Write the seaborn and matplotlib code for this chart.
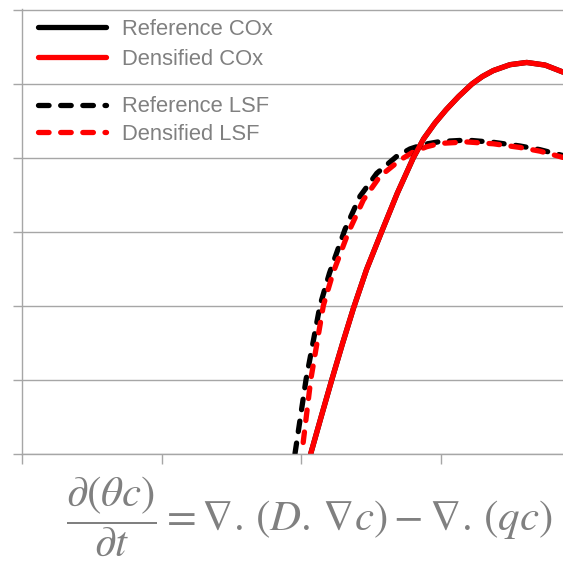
import numpy as np
import pandas as pd
import matplotlib
matplotlib.use("Agg")
import matplotlib.pyplot as plt
from matplotlib.lines import Line2D
import seaborn as sns

# values (x in tick units, y in gridline units)
cox_x = [2.070, 2.145, 2.221, 2.298, 2.375, 2.470, 2.578, 2.690, 2.805, 2.880,
         2.960, 3.040, 3.130, 3.226, 3.300, 3.378, 3.498, 3.618, 3.749, 3.878]
cox_ref = [0.0, 0.50, 1.00, 1.49, 1.96, 2.49, 3.00, 3.52, 4.00, 4.26,
           4.47, 4.65, 4.83, 5.00, 5.10, 5.18, 5.26, 5.29, 5.255, 5.16]
cox_dens = [0.0, 0.50, 1.00, 1.49, 1.96, 2.49, 3.00, 3.52, 4.00, 4.26,
            4.47, 4.65, 4.83, 5.00, 5.10, 5.18, 5.26, 5.29, 5.255, 5.16]

lsf_ref_x = [1.957, 2.036, 2.136, 2.204, 2.315, 2.423, 2.543, 2.686, 2.781, 2.877,
             2.996, 3.188, 3.378, 3.570, 3.713, 3.878]
lsf_ref = [0.0, 1.00, 2.00, 2.44, 3.03, 3.48, 3.79, 4.02, 4.12, 4.18,
           4.22, 4.24, 4.21, 4.16, 4.11, 4.03]

lsf_dens_x = [2.006, 2.070, 2.160, 2.229, 2.339, 2.447, 2.566, 2.710, 2.805, 2.901,
              2.996, 3.188, 3.378, 3.570, 3.713, 3.878]
lsf_dens = [0.0, 1.00, 2.00, 2.44, 2.99, 3.43, 3.75, 3.97, 4.08, 4.15,
            4.195, 4.215, 4.19, 4.14, 4.09, 4.005]

labels = ["Reference COx", "Densified COx", "Reference LSF", "Densified LSF"]
x_ticks = [0, 1, 2, 3]
y_ticks = [0, 1, 2, 3, 4, 5, 6]

sns.set_style("white")
plt.rcParams["font.family"] = ["Liberation Sans", "DejaVu Sans"]
plt.rcParams["mathtext.fontset"] = "stix"

grey = "#a6a6a6"
txt_grey = "#808080"
red = "#ff0000"
lw = 3.8
dash = (2, 2.2)

fig = plt.figure(figsize=(5.63, 5.61), dpi=100)
ax = fig.add_axes([22 / 563, 107.5 / 561, 541 / 563, 445 / 561])

sns.lineplot(x=lsf_ref_x, y=lsf_ref, ax=ax, color="black", lw=lw, sort=False,
             linestyle=(0, dash), dash_capstyle="round")
sns.lineplot(x=lsf_dens_x, y=lsf_dens, ax=ax, color=red, lw=lw, sort=False,
             linestyle=(2.1, dash), dash_capstyle="round")
sns.lineplot(x=cox_x, y=cox_ref, ax=ax, color="black", lw=lw, sort=False)
sns.lineplot(x=cox_x, y=cox_dens, ax=ax, color=red, lw=lw, sort=False)

ax.set_xlim(0, 3.878)
ax.set_ylim(0, 6.02)
ax.set_xticks(x_ticks)
ax.set_yticks(y_ticks)
ax.set_xticklabels([])
ax.set_yticklabels([])
ax.grid(axis="y", color=grey, lw=1.0)
ax.grid(axis="x", visible=False)
for s in ["top", "right"]:
    ax.spines[s].set_visible(False)
for s in ["left", "bottom"]:
    ax.spines[s].set_color(grey)
    ax.spines[s].set_linewidth(1.0)
ax.tick_params(axis="y", direction="out", length=6.5, width=1.0, color=grey, left=True)
ax.tick_params(axis="x", direction="out", length=7, width=1.0, color=grey, bottom=True)

# legend proxies (same styles, dash phase starting at zero)
handles = [
    Line2D([], [], color="black", lw=lw, solid_capstyle="round"),
    Line2D([], [], color=red, lw=lw, solid_capstyle="round"),
    Line2D([], [], color="black", lw=lw, linestyle=(0, dash), dash_capstyle="round"),
    Line2D([], [], color=red, lw=lw, linestyle=(0, dash), dash_capstyle="round"),
]

leg_kw = dict(loc="upper left", frameon=False, fontsize=15.8, labelcolor=txt_grey,
              handlelength=3.1, handletextpad=0.71, borderpad=0, borderaxespad=0,
              bbox_transform=fig.transFigure)
leg1 = ax.legend(handles[:2], labels[:2], labelspacing=0.39,
                 bbox_to_anchor=(38 / 563, 1 - 19 / 561), **leg_kw)
ax.add_artist(leg1)
ax.legend(handles[2:], labels[2:], labelspacing=0.3,
          bbox_to_anchor=(38 / 563, 1 - 96.5 / 561), **leg_kw)

fig.text(66 / 563, 1 - 530 / 561,
         r"$\dfrac{\partial(\theta c)}{\partial t} = \nabla.\,(D.\,\nabla c) - \nabla.\,(qc)$",
         fontsize=31, color=txt_grey, ha="left", va="baseline")

fig.savefig("out.png", dpi=100)
